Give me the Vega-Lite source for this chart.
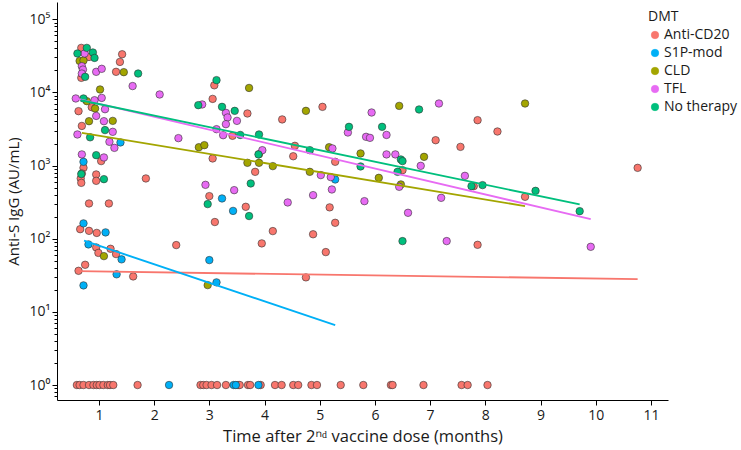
{
  "$schema": "https://vega.github.io/schema/vega-lite/v6.json",
  "width": 611,
  "height": 398,
  "autosize": "none",
  "padding": {"left": 57, "top": 2, "right": 73, "bottom": 50},
  "background": "white",
  "config": {
    "view": {"stroke": null},
    "font": "Open Sans",
    "axis": {"grid": false, "domainColor": "#000000", "tickColor": "#000000", "labelColor": "#1a1a1a", "titleColor": "#1a1a1a", "titleFontWeight": "normal", "domainWidth": 1, "tickWidth": 1}
  },
  "datasets": {
    "pts": [
      {"t":0.68,"v":40600,"g":"Anti-CD20"},{"t":0.82,"v":30500,"g":"Anti-CD20"},{"t":0.68,"v":15800,"g":"Anti-CD20"},{"t":1.42,"v":33200,"g":"Anti-CD20"},{"t":1.38,"v":26100,"g":"Anti-CD20"},{"t":1.31,"v":19100,"g":"Anti-CD20"},{"t":0.63,"v":5540,"g":"Anti-CD20"},{"t":0.87,"v":6280,"g":"Anti-CD20"},{"t":0.69,"v":3480,"g":"Anti-CD20"},{"t":1.04,"v":1150,"g":"Anti-CD20"},{"t":0.72,"v":931,"g":"Anti-CD20"},{"t":0.69,"v":780,"g":"Anti-CD20"},{"t":0.67,"v":666,"g":"Anti-CD20"},{"t":0.68,"v":580,"g":"Anti-CD20"},{"t":0.95,"v":755,"g":"Anti-CD20"},{"t":0.95,"v":618,"g":"Anti-CD20"},{"t":0.82,"v":303,"g":"Anti-CD20"},{"t":1.18,"v":303,"g":"Anti-CD20"},{"t":0.66,"v":135,"g":"Anti-CD20"},{"t":0.82,"v":128,"g":"Anti-CD20"},{"t":0.96,"v":120,"g":"Anti-CD20"},{"t":0.95,"v":76,"g":"Anti-CD20"},{"t":0.99,"v":64,"g":"Anti-CD20"},{"t":1.21,"v":72.8,"g":"Anti-CD20"},{"t":1.31,"v":61.6,"g":"Anti-CD20"},{"t":0.75,"v":44,"g":"Anti-CD20"},{"t":0.63,"v":36.4,"g":"Anti-CD20"},{"t":1.62,"v":30.5,"g":"Anti-CD20"},{"t":1.85,"v":666,"g":"Anti-CD20"},{"t":2.40,"v":81.8,"g":"Anti-CD20"},{"t":3.09,"v":12500,"g":"Anti-CD20"},{"t":3.06,"v":8150,"g":"Anti-CD20"},{"t":3.69,"v":5150,"g":"Anti-CD20"},{"t":3.42,"v":2550,"g":"Anti-CD20"},{"t":3.06,"v":1250,"g":"Anti-CD20"},{"t":3.83,"v":820,"g":"Anti-CD20"},{"t":3.00,"v":382,"g":"Anti-CD20"},{"t":3.66,"v":273,"g":"Anti-CD20"},{"t":3.10,"v":169,"g":"Anti-CD20"},{"t":3.95,"v":86.3,"g":"Anti-CD20"},{"t":4.32,"v":4270,"g":"Anti-CD20"},{"t":5.05,"v":6340,"g":"Anti-CD20"},{"t":4.55,"v":1860,"g":"Anti-CD20"},{"t":4.52,"v":1340,"g":"Anti-CD20"},{"t":5.28,"v":1125,"g":"Anti-CD20"},{"t":5.18,"v":268,"g":"Anti-CD20"},{"t":5.28,"v":165,"g":"Anti-CD20"},{"t":4.15,"v":127,"g":"Anti-CD20"},{"t":4.88,"v":115,"g":"Anti-CD20"},{"t":5.11,"v":65.6,"g":"Anti-CD20"},{"t":4.75,"v":29.6,"g":"Anti-CD20"},{"t":7.10,"v":2220,"g":"Anti-CD20"},{"t":7.55,"v":1800,"g":"Anti-CD20"},{"t":6.50,"v":865,"g":"Anti-CD20"},{"t":7.79,"v":523,"g":"Anti-CD20"},{"t":7.86,"v":4170,"g":"Anti-CD20"},{"t":8.22,"v":2920,"g":"Anti-CD20"},{"t":7.86,"v":82.5,"g":"Anti-CD20"},{"t":8.72,"v":374,"g":"Anti-CD20"},{"t":10.76,"v":930,"g":"Anti-CD20"},
      {"t":0.60,"v":1,"g":"Anti-CD20"},{"t":0.65,"v":1,"g":"Anti-CD20"},{"t":0.72,"v":1,"g":"Anti-CD20"},{"t":0.82,"v":1,"g":"Anti-CD20"},{"t":0.90,"v":1,"g":"Anti-CD20"},{"t":0.96,"v":1,"g":"Anti-CD20"},{"t":1.01,"v":1,"g":"Anti-CD20"},{"t":1.08,"v":1,"g":"Anti-CD20"},{"t":1.16,"v":1,"g":"Anti-CD20"},{"t":1.20,"v":1,"g":"Anti-CD20"},{"t":1.26,"v":1,"g":"Anti-CD20"},{"t":1.70,"v":1,"g":"Anti-CD20"},{"t":2.84,"v":1,"g":"Anti-CD20"},{"t":2.89,"v":1,"g":"Anti-CD20"},{"t":2.95,"v":1,"g":"Anti-CD20"},{"t":3.04,"v":1,"g":"Anti-CD20"},{"t":3.14,"v":1,"g":"Anti-CD20"},{"t":3.30,"v":1,"g":"Anti-CD20"},{"t":3.52,"v":1,"g":"Anti-CD20"},{"t":3.55,"v":1,"g":"Anti-CD20"},{"t":3.70,"v":1,"g":"Anti-CD20"},{"t":3.74,"v":1,"g":"Anti-CD20"},{"t":3.93,"v":1,"g":"Anti-CD20"},{"t":4.19,"v":1,"g":"Anti-CD20"},{"t":4.31,"v":1,"g":"Anti-CD20"},{"t":4.52,"v":1,"g":"Anti-CD20"},{"t":4.61,"v":1,"g":"Anti-CD20"},{"t":4.85,"v":1,"g":"Anti-CD20"},{"t":4.95,"v":1,"g":"Anti-CD20"},{"t":5.38,"v":1,"g":"Anti-CD20"},{"t":5.79,"v":1,"g":"Anti-CD20"},{"t":6.29,"v":1,"g":"Anti-CD20"},{"t":6.32,"v":1,"g":"Anti-CD20"},{"t":6.88,"v":1,"g":"Anti-CD20"},{"t":7.57,"v":1,"g":"Anti-CD20"},{"t":7.68,"v":1,"g":"Anti-CD20"},{"t":8.04,"v":1,"g":"Anti-CD20"},
      {"t":1.39,"v":2070,"g":"S1P-mod"},{"t":0.72,"v":1125,"g":"S1P-mod"},{"t":0.72,"v":162,"g":"S1P-mod"},{"t":1.12,"v":122,"g":"S1P-mod"},{"t":0.81,"v":83.6,"g":"S1P-mod"},{"t":1.41,"v":52.2,"g":"S1P-mod"},{"t":1.32,"v":32.6,"g":"S1P-mod"},{"t":0.72,"v":23,"g":"S1P-mod"},{"t":3.23,"v":355,"g":"S1P-mod"},{"t":3.43,"v":240,"g":"S1P-mod"},{"t":3.00,"v":51,"g":"S1P-mod"},{"t":3.13,"v":25.3,"g":"S1P-mod"},{"t":5.28,"v":645,"g":"S1P-mod"},{"t":2.27,"v":1,"g":"S1P-mod"},{"t":3.44,"v":1,"g":"S1P-mod"},{"t":3.48,"v":1,"g":"S1P-mod"},{"t":3.89,"v":1,"g":"S1P-mod"},
      {"t":0.65,"v":26900,"g":"CLD"},{"t":0.72,"v":27300,"g":"CLD"},{"t":1.45,"v":18900,"g":"CLD"},{"t":1.02,"v":10960,"g":"CLD"},{"t":0.78,"v":7590,"g":"CLD"},{"t":0.93,"v":6030,"g":"CLD"},{"t":0.82,"v":4040,"g":"CLD"},{"t":1.25,"v":4080,"g":"CLD"},{"t":1.09,"v":57.8,"g":"CLD"},{"t":3.72,"v":11500,"g":"CLD"},{"t":2.81,"v":1780,"g":"CLD"},{"t":2.91,"v":1900,"g":"CLD"},{"t":3.90,"v":1430,"g":"CLD"},{"t":3.69,"v":1090,"g":"CLD"},{"t":3.90,"v":1090,"g":"CLD"},{"t":2.97,"v":23.2,"g":"CLD"},{"t":4.75,"v":5590,"g":"CLD"},{"t":6.44,"v":6540,"g":"CLD"},{"t":5.17,"v":1780,"g":"CLD"},{"t":4.15,"v":982,"g":"CLD"},{"t":4.82,"v":820,"g":"CLD"},{"t":5.74,"v":1463,"g":"CLD"},{"t":6.89,"v":1315,"g":"CLD"},{"t":6.07,"v":679,"g":"CLD"},{"t":6.47,"v":552,"g":"CLD"},{"t":8.72,"v":7050,"g":"CLD"},
      {"t":0.74,"v":34000,"g":"TFL"},{"t":0.69,"v":22800,"g":"TFL"},{"t":0.71,"v":20500,"g":"TFL"},{"t":0.69,"v":18100,"g":"TFL"},{"t":0.95,"v":19100,"g":"TFL"},{"t":1.05,"v":21000,"g":"TFL"},{"t":1.61,"v":12200,"g":"TFL"},{"t":2.10,"v":9360,"g":"TFL"},{"t":0.58,"v":8260,"g":"TFL"},{"t":0.92,"v":7820,"g":"TFL"},{"t":1.05,"v":8410,"g":"TFL"},{"t":0.95,"v":4770,"g":"TFL"},{"t":1.11,"v":5890,"g":"TFL"},{"t":1.09,"v":4040,"g":"TFL"},{"t":1.25,"v":2890,"g":"TFL"},{"t":0.61,"v":2660,"g":"TFL"},{"t":1.19,"v":2110,"g":"TFL"},{"t":1.28,"v":1745,"g":"TFL"},{"t":0.69,"v":1420,"g":"TFL"},{"t":1.09,"v":1290,"g":"TFL"},{"t":2.44,"v":2370,"g":"TFL"},{"t":2.87,"v":6840,"g":"TFL"},{"t":3.30,"v":5250,"g":"TFL"},{"t":3.33,"v":4540,"g":"TFL"},{"t":3.50,"v":4080,"g":"TFL"},{"t":3.30,"v":3680,"g":"TFL"},{"t":3.13,"v":3140,"g":"TFL"},{"t":3.25,"v":2600,"g":"TFL"},{"t":2.93,"v":545,"g":"TFL"},{"t":3.45,"v":461,"g":"TFL"},{"t":3.96,"v":1622,"g":"TFL"},{"t":5.23,"v":1713,"g":"TFL"},{"t":5.94,"v":5310,"g":"TFL"},{"t":7.16,"v":7050,"g":"TFL"},{"t":5.51,"v":2830,"g":"TFL"},{"t":5.84,"v":2470,"g":"TFL"},{"t":5.91,"v":2390,"g":"TFL"},{"t":6.21,"v":2620,"g":"TFL"},{"t":6.21,"v":1420,"g":"TFL"},{"t":6.37,"v":1420,"g":"TFL"},{"t":6.83,"v":991,"g":"TFL"},{"t":5.02,"v":740,"g":"TFL"},{"t":5.20,"v":695,"g":"TFL"},{"t":6.44,"v":512,"g":"TFL"},{"t":7.63,"v":723,"g":"TFL"},{"t":7.20,"v":362,"g":"TFL"},{"t":4.42,"v":313,"g":"TFL"},{"t":4.88,"v":394,"g":"TFL"},{"t":5.22,"v":471,"g":"TFL"},{"t":5.81,"v":326,"g":"TFL"},{"t":6.60,"v":226,"g":"TFL"},{"t":7.30,"v":92.7,"g":"TFL"},{"t":9.91,"v":77.5,"g":"TFL"},
      {"t":0.78,"v":40600,"g":"No therapy"},{"t":0.61,"v":34000,"g":"No therapy"},{"t":0.89,"v":35100,"g":"No therapy"},{"t":0.92,"v":29600,"g":"No therapy"},{"t":0.75,"v":16300,"g":"No therapy"},{"t":1.71,"v":18100,"g":"No therapy"},{"t":0.72,"v":8260,"g":"No therapy"},{"t":1.11,"v":3050,"g":"No therapy"},{"t":0.84,"v":2430,"g":"No therapy"},{"t":0.95,"v":1387,"g":"No therapy"},{"t":1.09,"v":652,"g":"No therapy"},{"t":0.68,"v":764,"g":"No therapy"},{"t":3.13,"v":14700,"g":"No therapy"},{"t":2.80,"v":6690,"g":"No therapy"},{"t":3.23,"v":6340,"g":"No therapy"},{"t":3.46,"v":5590,"g":"No therapy"},{"t":3.56,"v":2620,"g":"No therapy"},{"t":3.90,"v":2660,"g":"No therapy"},{"t":3.75,"v":569,"g":"No therapy"},{"t":2.97,"v":297,"g":"No therapy"},{"t":3.72,"v":204,"g":"No therapy"},{"t":3.89,"v":1420,"g":"No therapy"},{"t":4.82,"v":1622,"g":"No therapy"},{"t":5.53,"v":3380,"g":"No therapy"},{"t":6.13,"v":3380,"g":"No therapy"},{"t":6.80,"v":5840,"g":"No therapy"},{"t":5.74,"v":972,"g":"No therapy"},{"t":6.47,"v":1211,"g":"No therapy"},{"t":6.50,"v":1150,"g":"No therapy"},{"t":6.41,"v":820,"g":"No therapy"},{"t":7.75,"v":523,"g":"No therapy"},{"t":7.95,"v":540,"g":"No therapy"},{"t":8.91,"v":451,"g":"No therapy"},{"t":9.71,"v":238,"g":"No therapy"},{"t":6.50,"v":92.7,"g":"No therapy"}
    ],
    "fits": [
      {"t":0.62,"v":36,"g":"Anti-CD20"},{"t":10.76,"v":28,"g":"Anti-CD20"},
      {"t":0.73,"v":94,"g":"S1P-mod"},{"t":5.28,"v":6.6,"g":"S1P-mod"},
      {"t":0.69,"v":2800,"g":"CLD"},{"t":8.72,"v":279,"g":"CLD"},
      {"t":0.58,"v":8300,"g":"TFL"},{"t":9.91,"v":185,"g":"TFL"},
      {"t":0.67,"v":7800,"g":"No therapy"},{"t":9.71,"v":294,"g":"No therapy"}
    ]
  },
  "layer": [
    {
      "data": {"name": "pts"},
      "mark": {"type": "circle", "size": 56, "opacity": 1, "stroke": "#333333", "strokeWidth": 0.6},
      "encoding": {
        "x": {
          "field": "t", "type": "quantitative",
          "scale": {"domain": [0.24, 11.31], "nice": false, "zero": false},
          "axis": {"values": [1,2,3,4,5,6,7,8,9,10,11], "format": "d", "title": "Time after 2ⁿᵈ vaccine dose (months)", "titleFontSize": 16.5, "labelFontSize": 14, "tickSize": 5, "labelPadding": 3, "titlePadding": 6}
        },
        "y": {
          "field": "v", "type": "quantitative",
          "scale": {"type": "log", "domain": [0.624, 172000], "nice": false},
          "axis": {
            "values": [0.7,0.8,0.9,1,2,3,4,5,6,7,8,9,10,20,30,40,50,60,70,80,90,100,200,300,400,500,600,700,800,900,1000,2000,3000,4000,5000,6000,7000,8000,9000,10000,20000,30000,40000,50000,60000,70000,80000,90000,100000],
            "labelExpr": "datum.value==1?'10⁰':datum.value==10?'10¹':datum.value==100?'10²':datum.value==1000?'10³':datum.value==10000?'10⁴':datum.value==100000?'10⁵':''",
            "labelOverlap": false,
            "tickSize": {"condition": {"test": "datum.value==1||datum.value==10||datum.value==100||datum.value==1000||datum.value==10000||datum.value==100000", "value": 5}, "value": 3},
            "title": "Anti-S IgG (AU/mL)", "titleFontSize": 15, "labelFontSize": 14, "labelPadding": 2, "titlePadding": 8
          }
        },
        "color": {
          "field": "g", "type": "nominal",
          "scale": {"domain": ["Anti-CD20","S1P-mod","CLD","TFL","No therapy"], "range": ["#F8766D","#00B0F6","#A3A500","#E76BF3","#00BF7D"]},
          "legend": {"orient": "none", "legendX": 591, "legendY": 8, "title": "DMT", "titleFontSize": 14, "titleFontWeight": "normal", "titleColor": "#1a1a1a", "labelColor": "#1a1a1a", "labelFontSize": 14, "symbolType": "circle", "symbolSize": 56, "symbolStrokeColor": "#333333", "symbolStrokeWidth": 0.6, "symbolOpacity": 1, "rowPadding": 4, "titlePadding": 4, "labelOffset": 2}
        }
      }
    },
    {
      "data": {"name": "fits"},
      "mark": {"type": "line", "strokeWidth": 1.9},
      "encoding": {
        "x": {"field": "t", "type": "quantitative"},
        "y": {"field": "v", "type": "quantitative"},
        "detail": {"field": "g"},
        "stroke": {
          "field": "g", "type": "nominal",
          "scale": {"domain": ["Anti-CD20","S1P-mod","CLD","TFL","No therapy"], "range": ["#F8766D","#00B0F6","#A3A500","#E76BF3","#00BF7D"]},
          "legend": null
        }
      }
    }
  ]
}
